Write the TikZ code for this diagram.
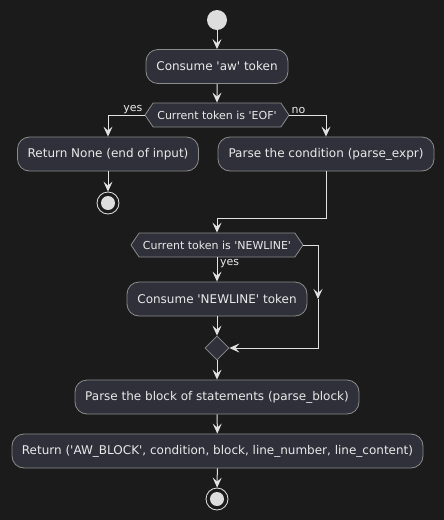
\documentclass[tikz,border=0pt]{standalone}
\usepackage{fontspec}
\setmainfont{DejaVu Sans}
\usetikzlibrary{arrows.meta,shapes.symbols,shapes.geometric}
\definecolor{bg}{HTML}{1B1B1C}
\definecolor{boxfill}{HTML}{2F3039}
\definecolor{boxline}{HTML}{8C8C8C}
\definecolor{ln}{HTML}{E2E2E2}
\definecolor{txt}{HTML}{EAEAEA}
\definecolor{dot}{HTML}{DDDDDD}
\newcommand{\sq}{\textquotesingle}
\begin{document}
\begin{tikzpicture}[x=1pt,y=-1pt,
  act/.style={rectangle, rounded corners=12pt, draw=boxline, fill=boxfill, text=txt,
    font=\fontsize{12}{14}\selectfont, minimum height=34pt, line width=0.8pt, inner sep=0pt},
  hexa/.style={signal, signal to=east and west, signal pointer angle=112, draw=boxline, fill=boxfill,
    text=txt, font=\fontsize{11}{13}\selectfont, minimum height=24pt, line width=0.8pt, inner sep=0pt},
  merge/.style={diamond, draw=boxline, fill=boxfill, minimum width=24pt, minimum height=24pt, inner sep=0pt, line width=0.8pt},
  startdot/.style={circle, fill=dot, minimum size=20pt, inner sep=0pt},
  stopring/.style={circle, draw=ln, fill=bg, minimum size=22pt, inner sep=0pt, line width=0.8pt},
  stopdot/.style={circle, fill=dot, minimum size=14pt, inner sep=0pt},
  conn/.style={draw=ln, line width=1pt, -{Stealth[length=10pt,width=9pt,inset=4pt]}},
  lbl/.style={text=txt, font=\fontsize{11}{13}\selectfont, inner sep=1pt}
]
\fill[bg] (0,0) rectangle (444,520);
\useasboundingbox (0,0) rectangle (444,520);

\node[startdot] (start) at (217,20) {};
\node[act, minimum width=142pt] (consume) at (217,66.5) {Consume \sq aw\sq{} token};
\node[hexa, minimum width=144pt] (hex1) at (217,115) {Current token is \sq EOF\sq};
\node[act, minimum width=181pt] (ret) at (108,154) {Return None (end of input)};
\node[act, minimum width=216pt] (parse) at (326,154) {Parse the condition (parse\_expr)};
\node[stopring] (stop1) at (108,203) {};
\node[stopdot] at (stop1) {};
\node[hexa, minimum width=172pt] (hex2) at (217,245) {Current token is \sq NEWLINE\sq};
\node[act, minimum width=180pt] (nl) at (217,299) {Consume \sq NEWLINE\sq{} token};
\node[merge] (mg) at (217,348) {};
\node[act, minimum width=284pt] (block) at (217,397) {Parse the block of statements (parse\_block)};
\node[act, minimum width=411pt] (retblk) at (217.5,451) {Return (\sq AW\_BLOCK\sq, condition, block, line\_number, line\_content)};
\node[stopring] (stop2) at (217,499) {};
\node[stopdot] at (stop2) {};

\coordinate (j1) at (217,218);
\coordinate (j2) at (318,299);

\draw[conn] (start) -- (consume);
\draw[conn] (consume) -- (hex1);
\draw[conn] (hex1.west) -| (ret.north);
\draw[conn] (hex1.east) -| (parse.north);
\node[lbl, anchor=south east] (ly) at ([xshift=-1pt]hex1.west) {yes};
\node[lbl, anchor=south west] (ln) at ([xshift=1pt]hex1.east) {no};
\draw[conn] (ret) -- (stop1);
\draw[draw=ln, line width=1pt] (parse.south) |- (j1);
\draw[conn] (j1) -- (hex2.north);
\draw[conn] (hex2.south) -- (nl.north);
\node[lbl, anchor=west] (ly2) at (219,264) {yes};
\draw[conn] (hex2.east) -| (j2);
\draw[conn] (j2) |- (mg.east);
\draw[conn] (nl) -- (mg);
\draw[conn] (mg) -- (block);
\draw[conn] (block) -- (retblk);
\draw[conn] (retblk) -- (stop2);
\end{tikzpicture}
\end{document}
